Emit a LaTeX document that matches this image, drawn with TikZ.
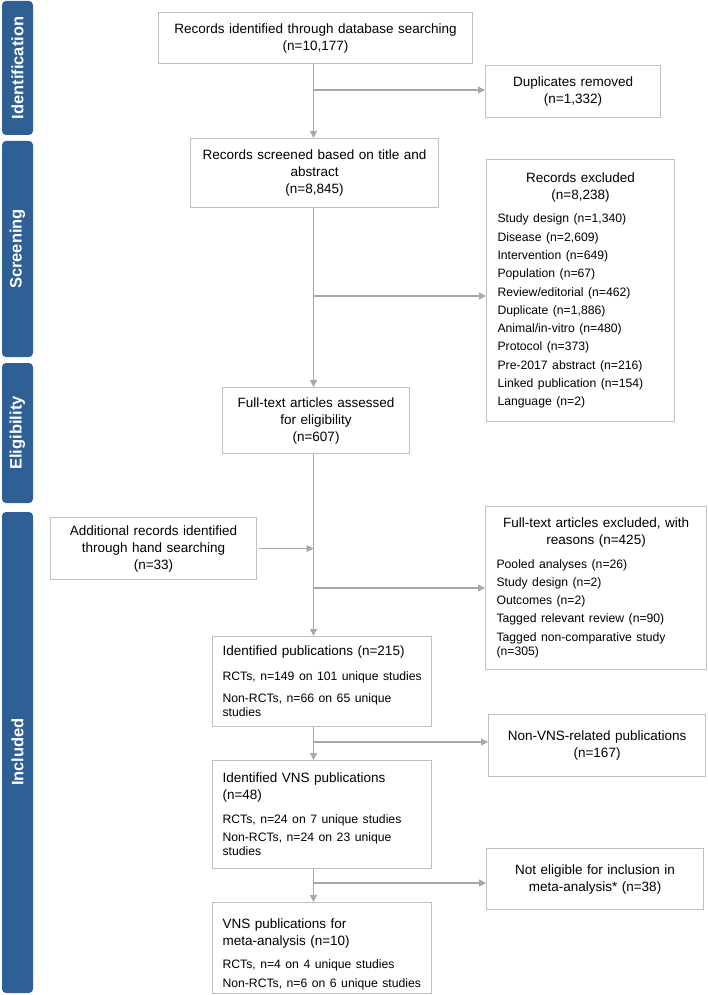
\documentclass[tikz,border=0pt]{standalone}
\usepackage{fontspec}
\setmainfont{Liberation Sans}
\usetikzlibrary{arrows.meta}
\definecolor{barblue}{RGB}{46,96,150}
\definecolor{boxgray}{RGB}{192,192,192}
\definecolor{linegray}{RGB}{168,168,168}
\newcommand{\hdf}{\fontsize{13.5}{17}\selectfont\hyphenpenalty=10000\exhyphenpenalty=10000}
\newcommand{\lsf}{\fontsize{12.2}{18.3}\selectfont}
\newcommand{\wrp}{\\[-4pt]}
\begin{document}
\begin{tikzpicture}[x=1pt,y=-1pt,
  bx/.style={draw=boxgray, line width=1.1pt, inner sep=0pt, anchor=north west, text=black, font=\hdf},
  bar/.style={fill=barblue, rounded corners=4pt, draw=none},
  bartext/.style={rotate=90, text=white, font=\fontsize{16.5}{18}\selectfont\bfseries},
  arr/.style={draw=linegray, line width=1.2pt, -{Triangle[length=7pt,width=7pt]}}]
\useasboundingbox (0,0) rectangle (708,995);

% phase bars
\path[bar] (2,1) rectangle (33,135);
\node[bartext] (lid) at (17.5,68) {Identification};
\path[bar] (2,141) rectangle (33,357);
\node[bartext] (lscr) at (17.5,249) {Screening};
\path[bar] (2,363) rectangle (33,503);
\node[bartext] (lel) at (17.5,433) {Eligibility};
\path[bar] (2,512) rectangle (33,993);
\node[bartext] (lin) at (17.5,752) {Included};

% boxes
\node[bx, minimum width=314, minimum height=51, text width=300, align=center] (rid) at (158,12)
  {Records identified through database searching\\(n=10,177)};
\node[bx, minimum width=175, minimum height=52, text width=165, align=center] (dup) at (485,65)
  {Duplicates removed\\(n=1,332)};
\node[bx, minimum width=248, minimum height=69, text width=236, align=center] (scr) at (190,138)
  {Records screened based on title and\\abstract\\(n=8,845)};
\node[bx, minimum width=188, minimum height=262, text width=166, align=left] (exc) at (486,159)
  {{\centering Records excluded\\(n=8,238)\par}\vspace{5pt}%
   {\lsf Study design (n=1,340)\\Disease (n=2,609)\\Intervention (n=649)\\Population (n=67)\\%
   Review/editorial (n=462)\\Duplicate (n=1,886)\\Animal/in-vitro (n=480)\\Protocol (n=373)\\%
   Pre-2017 abstract (n=216)\\Linked publication (n=154)\\Language (n=2)\par}};
\node[bx, minimum width=187, minimum height=66, text width=177, align=center] (ft) at (222,387)
  {Full-text articles assessed\\for eligibility\\(n=607)};
\node[bx, minimum width=206, minimum height=62, text width=196, align=center] (add) at (50,517)
  {Additional records identified\\through hand searching\\(n=33)};
\node[bx, minimum width=221, minimum height=163, text width=199, align=left] (ftx) at (485,506)
  {{\centering Full-text articles excluded, with\\reasons (n=425)\par}\vspace{5pt}%
   {\lsf Pooled analyses (n=26)\\Study design (n=2)\\Outcomes (n=2)\\Tagged relevant review (n=90)\\%
   Tagged non-comparative study\wrp(n=305)\par}};
\node[bx, minimum width=219, minimum height=90, text width=199, align=left] (idp) at (212,636)
  {Identified publications (n=215)\par\vspace{6pt}%
   {\lsf \mbox{RCTs, n=149 on 101 unique studies}\\[4pt]\mbox{Non-RCTs, n=66 on 65 unique}\wrp studies\par}};
\node[bx, minimum width=217, minimum height=62, text width=205, align=center] (nvns) at (488,714)
  {Non-VNS-related publications\\(n=167)};
\node[bx, minimum width=219, minimum height=108, text width=199, align=left] (vns) at (212,760)
  {Identified VNS publications\\(n=48)\par\vspace{5pt}%
   {\lsf \mbox{RCTs, n=24 on 7 unique studies}\\\mbox{Non-RCTs, n=24 on 23 unique}\wrp studies\par}};
\node[bx, minimum width=217, minimum height=61, text width=205, align=center] (nel) at (486,848)
  {Not eligible for inclusion in\\meta-analysis* (n=38)};
\node[bx, minimum width=219, minimum height=91, text width=199, align=left] (meta) at (212,902)
  {\rule{0pt}{22pt}VNS publications for\\meta-analysis (n=10)\par\vspace{5pt}%
   {\lsf \mbox{RCTs, n=4 on 4 unique studies}\\\mbox{Non-RCTs, n=6 on 6 unique studies}\par}};

% connectors
\coordinate (spine) at (313.5,0);
\coordinate (b1) at (313.5,90);
\coordinate (b2) at (313.5,296);
\coordinate (b3) at (313.5,588);
\coordinate (b4) at (313.5,742);
\coordinate (b5) at (313.5,883);
\draw[arr] (rid.south -| spine) -- (scr.north -| spine);
\draw[arr] (b1) -- (b1 -| dup.west);
\draw[arr] (scr.south -| spine) -- (ft.north -| spine);
\draw[arr] (b2) -- (b2 -| exc.west);
\draw[arr] (ft.south -| spine) -- (idp.north -| spine);
\draw[arr] ([xshift=2pt]add.east) -- (add.east -| spine);
\draw[arr] (b3) -- (b3 -| ftx.west);
\draw[arr] (idp.south -| spine) -- (vns.north -| spine);
\draw[arr] (b4) -- (b4 -| nvns.west);
\draw[arr] (vns.south -| spine) -- (meta.north -| spine);
\draw[arr] (b5) -- (b5 -| nel.west);
\end{tikzpicture}
\end{document}
